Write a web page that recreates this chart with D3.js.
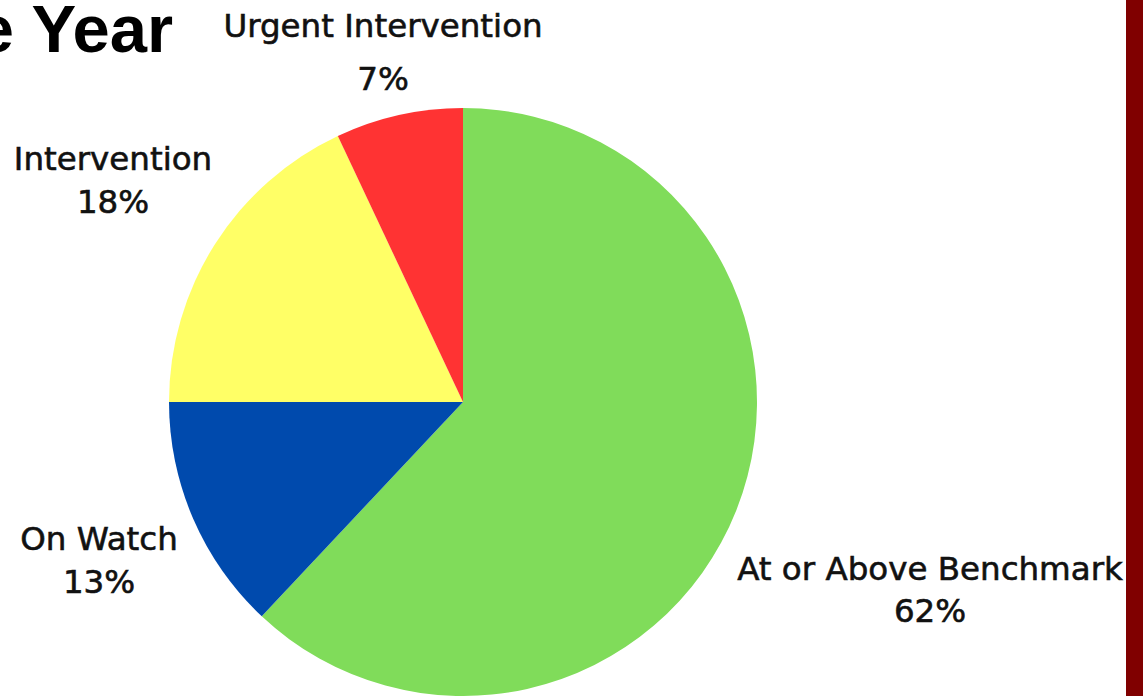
<!DOCTYPE html>
<html>
<head>
<meta charset="utf-8">
<script src="https://cdn.jsdelivr.net/npm/d3@7"></script>
<style>
  html, body { margin: 0; padding: 0; background: #fff; overflow: hidden; }
</style>
</head>
<body>
<div id="chart"></div>
<script>
  // slice data
  var categories = ["At or Above Benchmark", "On Watch", "Intervention", "Urgent Intervention"];
  var values = [62, 13, 18, 7];
  var colors = ["#80dc5a", "#004aad", "#ffff66", "#ff3333"];

  // label spots (center x, first baseline, second baseline)
  var labelPos = [
    [930, 580, 622],
    [99, 550, 593],
    [113, 170, 213],
    [383, 37, 90]
  ];

  var w = 1143, h = 696;
  var cx = 463, cy = 402, r = 294;

  var svg = d3.select("#chart")
    .append("svg")
    .attr("width", w)
    .attr("height", h);

  // title, only the end of it is inside the frame
  svg.append("text")
    .attr("x", 173)
    .attr("y", 52)
    .attr("text-anchor", "end")
    .attr("font-family", "Liberation Sans, Arial, sans-serif")
    .attr("font-weight", "bold")
    .attr("font-size", "67px")
    .attr("fill", "#000")
    .text("e Year");

  // dark red strip on the right edge
  svg.append("rect")
    .attr("x", 1126)
    .attr("y", 0)
    .attr("width", w - 1126)
    .attr("height", h)
    .attr("fill", "#800000");

  var pie = d3.pie().sort(null).value(function(d) { return d; });
  var arc = d3.arc().innerRadius(0).outerRadius(r);

  var g = svg.append("g")
    .attr("transform", "translate(" + cx + "," + cy + ")");

  g.selectAll("path")
    .data(pie(values))
    .enter()
    .append("path")
    .attr("d", arc)
    .attr("fill", function(d, i) { return colors[i]; });

  var labels = svg.selectAll("text.lbl")
    .data(categories)
    .enter()
    .append("text")
    .attr("class", "lbl")
    .attr("text-anchor", "middle")
    .attr("font-family", "DejaVu Sans, sans-serif")
    .attr("font-size", "32.5px")
    .attr("fill", "#111")
    .attr("stroke", "#111")
    .attr("stroke-width", 0.6);

  labels.append("tspan")
    .attr("x", function(d, i) { return labelPos[i][0]; })
    .attr("y", function(d, i) { return labelPos[i][1]; })
    .text(function(d) { return d; });

  labels.append("tspan")
    .attr("x", function(d, i) { return labelPos[i][0]; })
    .attr("y", function(d, i) { return labelPos[i][2]; })
    .text(function(d, i) { return values[i] + "%"; });
</script>
</body>
</html>
